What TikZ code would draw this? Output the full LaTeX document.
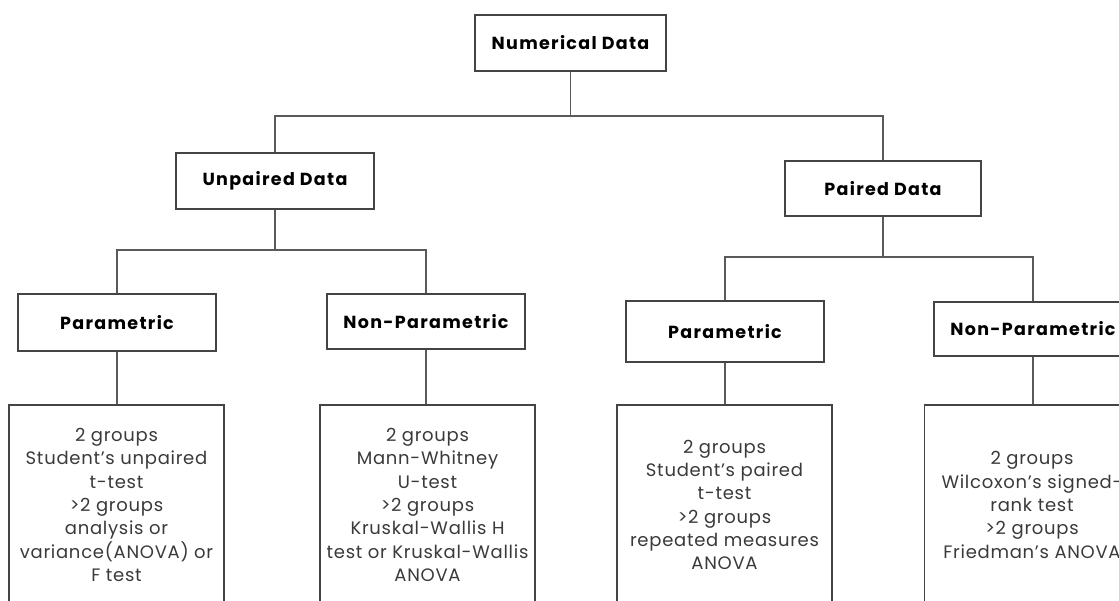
\documentclass[tikz,border=0pt]{standalone}
\usepackage{fontspec}
\setmainfont{Poppins}
\newfontfamily\headfont{Poppins}[LetterSpace=7.5]
\newfontfamily\bodyfont{Poppins}[LetterSpace=4]
\definecolor{boxline}{HTML}{444444}
\definecolor{conn}{HTML}{5A5A5A}
\definecolor{bodytext}{HTML}{3A3A3A}
\begin{document}
\begin{tikzpicture}[x=1pt,y=-1pt,
  headbox/.style={draw=boxline,line width=1.9pt,fill=white,inner sep=0pt,
    minimum width=#1,font=\headfont\bfseries\fontsize{17.5}{19}\selectfont,text=black},
  headbox/.default=198pt,
  resbox/.style={draw=boxline,line width=1.9pt,fill=white,inner sep=0pt,
    minimum width=215pt,minimum height=200pt,align=center,
    font=\bodyfont\fontsize{18}{23.3}\selectfont,text=bodytext},
  conline/.style={draw=conn,line width=1.9pt}]
\clip (0,0) rectangle (1119,600);
\fill[white] (0,0) rectangle (1119,600);
% level 0
\node[headbox=191pt,minimum height=56pt] (num) at (570.5,43) {Numerical Data};
% level 1
\node[headbox=198pt,minimum height=56pt] (unp) at (275,181) {Unpaired Data};
\node[headbox=196pt,minimum height=55pt] (pai) at (883,188.5) {Paired Data};
% level 2
\node[headbox,minimum height=57pt] (p1) at (117,322.5) {Parametric};
\node[headbox,minimum height=55pt] (n1) at (426,321.5) {Non-Parametric};
\node[headbox,minimum height=61pt] (p2) at (725,331.5) {Parametric};
\node[headbox,minimum height=54pt] (n2) at (1033,329) {Non-Parametric};
% level 3
\node[resbox] (r1) at (116.5,505) {2 groups\\Student’s unpaired\\t-test\\>2 groups\\analysis or\\variance(ANOVA) or\\F test};
\node[resbox] (r2) at (427.5,505) {2 groups\\Mann-Whitney\\U-test\\>2 groups\\Kruskal-Wallis H\\test or Kruskal-Wallis\\ANOVA};
\node[resbox] (r3) at (724.5,505) {2 groups\\Student’s paired\\t-test\\>2 groups\\repeated measures\\ANOVA};
\node[resbox] (r4) at (1032,505) {2 groups\\Wilcoxon’s signed-\\rank test\\>2 groups\\Friedman’s ANOVA};
% junctions
\coordinate (j0) at (num.south |- 0,116);
\coordinate (j1) at (unp.south |- 0,250);
\coordinate (j2) at (pai.south |- 0,257);
% connectors
\draw[conline] (num.south) -- (j0);
\draw[conline] (j0) -| (unp.north);
\draw[conline] (j0) -| (pai.north);
\draw[conline] (unp.south) -- (j1);
\draw[conline] (j1) -| (p1.north);
\draw[conline] (j1) -| (n1.north);
\draw[conline] (pai.south) -- (j2);
\draw[conline] (j2) -| (p2.north);
\draw[conline] (j2) -| (n2.north);
\draw[conline] (p1.south) -- (p1.south |- r1.north);
\draw[conline] (n1.south) -- (n1.south |- r2.north);
\draw[conline] (p2.south) -- (p2.south |- r3.north);
\draw[conline] (n2.south) -- (n2.south |- r4.north);
\end{tikzpicture}
\end{document}
